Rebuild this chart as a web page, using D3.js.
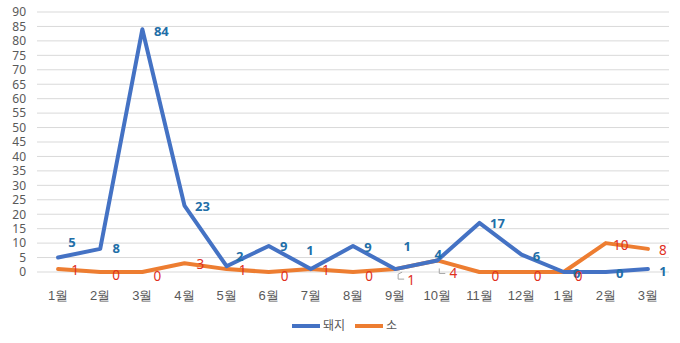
<!DOCTYPE html>
<html><head><meta charset="utf-8">
<script src="https://cdn.jsdelivr.net/npm/d3@7"></script>
<style>
html,body{margin:0;padding:0;background:#fff;}
svg{display:block;font-family:"Noto Sans CJK KR","Noto Sans",sans-serif;}
</style></head>
<body><svg id="c" width="680" height="343"></svg>
<script>
const categories = ["1월","2월","3월","4월","5월","6월","7월","8월","9월","10월","11월","12월","1월","2월","3월"];
const pigValues = [5, 8, 84, 23, 2, 9, 1, 9, 1, 4, 17, 6, 0, 0, 1];
const cowValues = [1, 0, 0, 3, 1, 0, 1, 0, 1, 4, 0, 0, 0, 10, 8];
const yTicks = [0,5,10,15,20,25,30,35,40,45,50,55,60,65,70,75,80,85,90];
const seriesNames = ["돼지","소"];

const svg = d3.select("#c");
const mLeft = 37, mRight = 669, mTop = 12, mBottom = 272;

const x = d3.scaleBand().domain(d3.range(categories.length)).range([mLeft, mRight]);
const y = d3.scaleLinear().domain([0, 90]).range([mBottom, mTop]);
const cx = i => x(i) + x.bandwidth()/2;

// grid
svg.append("g").selectAll("line").data(yTicks).join("line")
  .attr("x1", mLeft).attr("x2", mRight)
  .attr("y1", d => y(d)).attr("y2", d => y(d))
  .attr("stroke", "#d9d9d9").attr("stroke-width", 1);

// y axis labels
const yAxis = d3.axisLeft(y).tickValues(yTicks).tickSize(0).tickPadding(0);
const gy = svg.append("g").attr("transform", `translate(${mLeft-11},0)`).call(yAxis);
gy.select(".domain").remove();
gy.selectAll("text").attr("fill", "#595959").attr("font-size", 12)
  .attr("font-family", '"Noto Sans","DejaVu Sans",sans-serif');

// x axis labels
const xAxis = d3.axisBottom(x).tickFormat(i => categories[i]).tickSize(0).tickPadding(0);
const gx = svg.append("g").attr("transform", `translate(0,${mBottom+19})`).call(xAxis);
gx.select(".domain").remove();
gx.selectAll("text").attr("fill", "#595959").attr("font-size", 13).attr("dy", "0.71em");

const line = d3.line().x((d,i) => cx(i)).y(d => y(d)).curve(d3.curveLinear);

// leader lines for cow labels
svg.append("path")
  .attr("d", `M${cx(8)+7},${y(cowValues[8])+3} l-4,2 l0,5 l6,0 M${cx(9)+2},${y(cowValues[9])+8} l0,5 l6,0`)
  .attr("fill","none").attr("stroke","#a6a6a6").attr("stroke-width",1);

svg.append("path").datum(cowValues).attr("d", line)
  .attr("fill","none").attr("stroke","#ED7D31").attr("stroke-width",4)
  .attr("stroke-linejoin","round").attr("stroke-linecap","round");
svg.append("path").datum(pigValues).attr("d", line)
  .attr("fill","none").attr("stroke","#4472C4").attr("stroke-width",4)
  .attr("stroke-linejoin","round").attr("stroke-linecap","round");

// label offsets (dx, dy relative to point)
const pigOff = [[14,-15],[16,0],[19,2],[18,1],[13,-10],[15,0],[-1,-19],[15,1],[12,-23],[1,-6],[18,1],[15,2],[13,1],[14,1],[15,2]];
const cowOff = [[17,1],[16,3],[15,4],[16,1],[16,1],[16,4],[15,1],[16,4],[16,11],[16,13],[16,4],[16,4],[15,4],[15,2],[15,1]];

svg.append("g").selectAll("text").data(pigValues).join("text")
  .attr("x", (d,i) => cx(i) + pigOff[i][0]).attr("y", (d,i) => y(d) + pigOff[i][1])
  .attr("text-anchor","middle").attr("dy","0.35em")
  .attr("fill","#1F6FA8").attr("font-size",13).attr("font-weight","bold")
  .attr("font-family",'"Noto Sans","DejaVu Sans",sans-serif')
  .text(d => d);

svg.append("g").selectAll("text").data(cowValues).join("text")
  .attr("x", (d,i) => cx(i) + cowOff[i][0]).attr("y", (d,i) => y(d) + cowOff[i][1])
  .attr("text-anchor","middle").attr("dy","0.35em")
  .attr("fill","#E0301E").attr("font-size",13.5)
  .attr("font-family",'"Noto Sans","DejaVu Sans",sans-serif')
  .text(d => d);

// legend
const legend = svg.append("g");
const legItems = [{name: seriesNames[0], color:"#4472C4", x:292},{name: seriesNames[1], color:"#ED7D31", x:355}];
legItems.forEach(it => {
  legend.append("line").attr("x1", it.x).attr("x2", it.x+28).attr("y1",326).attr("y2",326)
    .attr("stroke", it.color).attr("stroke-width",4);
  legend.append("text").attr("x", it.x+31).attr("y",326).attr("dy","0.35em")
    .attr("fill","#595959").attr("font-size",12).text(it.name);
});
</script></body></html>
